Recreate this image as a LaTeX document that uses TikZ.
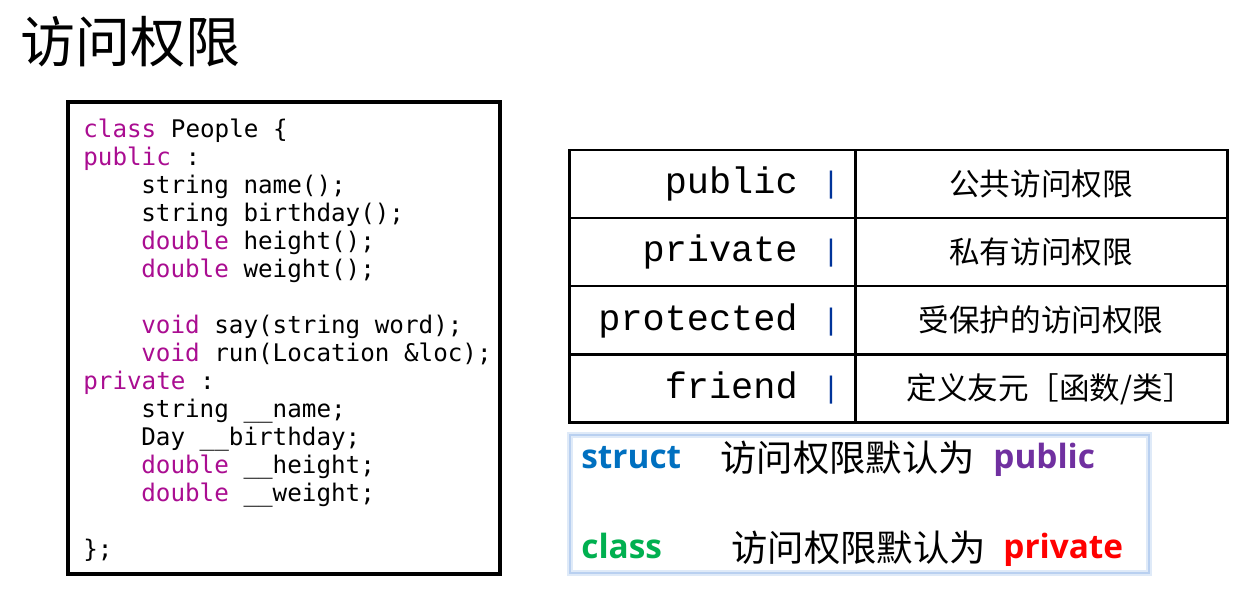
\documentclass[tikz,border=0pt]{standalone}
\usepackage{fontspec}
\setmonofont{DejaVu Sans Mono}
\newfontfamily\cjk{Noto Sans CJK SC}
\newfontfamily\cour{Liberation Mono}
\newfontfamily\osans{Open Sans}

\definecolor{kwcol}{RGB}{170,13,145}
\definecolor{barcol}{RGB}{0,51,153}
\definecolor{structcol}{RGB}{0,112,192}
\definecolor{pubcol}{RGB}{112,48,160}
\definecolor{classcol}{RGB}{0,176,80}
\definecolor{pricol}{RGB}{255,0,0}
\definecolor{glowcol}{RGB}{185,208,240}

\newcommand{\kw}[1]{\textcolor{kwcol}{#1}}

\begin{document}
\begin{tikzpicture}[x=0.02cm,y=-0.02cm,
	code/.style={anchor=base west,inner sep=0pt,font=\ttfamily\fontsize{13.8}{16}\selectfont},
	key/.style={anchor=base east,inner sep=0pt,font=\cour\fontsize{21}{24}\selectfont},
	bar/.style={anchor=base,inner sep=0pt,text=barcol,font=\ttfamily\fontsize{16}{18}\selectfont},
	desc/.style={anchor=base,inner sep=0pt,font=\cjk\fontsize{17.4}{20}\selectfont},
	note/.style={anchor=base west,inner sep=0pt,font=\cjk\fontsize{20.7}{24}\selectfont},
	word/.style={anchor=base west,inner sep=0pt,font=\osans\bfseries\fontsize{19}{22}\selectfont}]
	\useasboundingbox (0,0) rectangle (1256,612);

	%title
	\node[anchor=base west,inner sep=0pt,font=\cjk\fontsize{31.3}{36}\selectfont] (title) at (20,62) {访问权限};

	%code box
	\draw[line width=2.3pt] (68,102) rectangle (500,574);
	\foreach \y/\x/\t [count=\i] in {
		137/83/{\kw{class} People \{},
		165/83/{\kw{public} :},
		193/141/{string name();},
		221/141/{string birthday();},
		249/141/{\kw{double} height();},
		277/141/{\kw{double} weight();},
		333/141/{\kw{void} say(string word);},
		361/141/{\kw{void} run(Location \&loc);},
		389/83/{\kw{private} :},
		417/141/{string \_\_name;},
		445/141/{Day \_\_birthday;},
		473/141/{\kw{double} \_\_height;},
		501/141/{\kw{double} \_\_weight;},
		557/83/{\};}}
	\node[code] (l\i) at (\x,\y) {\t};

	%table
	\draw[line width=1.7pt] (569,150) rectangle (1227,422);
	\draw[line width=1.7pt] (855,150) -- (855,422);
	\foreach \y in {218,286,354}
	\draw[line width=1.7pt] (569,\y) -- (1227,\y);

	\node[key] (kpub) at (798,193) {public};
	\node[key] (kpri) at (798,261) {private};
	\node[key] (kpro) at (798,330) {protected};
	\node[key] (kfri) at (798,398) {friend};
	%
	\foreach \y [count=\i] in {192,260,329,397}
	\node[bar] (b\i) at (831,\y) {|};
	%
	\node[desc] (dpub) at (1041,195) {公共访问权限};
	\node[desc] (dpri) at (1041,263) {私有访问权限};
	\node[desc] (dpro) at (1041,331) {受保护的访问权限};
	\node[desc] (dfri) at (1050,399) {定义友元［函数/类］};

	%defaults
	\draw[glowcol!45,line width=3pt] (570,435) rectangle (1149,573);
	\draw[glowcol,line width=1pt] (570,435) rectangle (1149,573);
	\node[word,text=structcol] (ws) at (581,468) {struct};
	\node[note] (ns) at (720,471) {访问权限默认为};
	\node[word,text=pubcol] (wpub) at (993,468) {public};
	%
	\node[word,text=classcol] (wc) at (581,558) {class};
	\node[note] (nc) at (731,561) {访问权限默认为};
	\node[word,text=pricol] (wpri) at (1003,558) {private};
\end{tikzpicture}
\end{document}
